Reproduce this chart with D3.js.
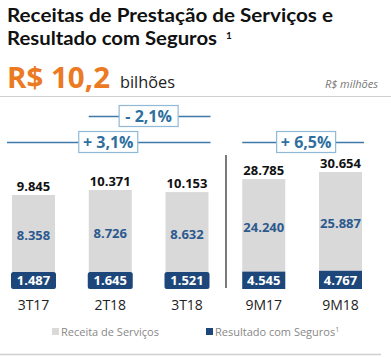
<!DOCTYPE html>
<html><head><meta charset="utf-8">
<script src="https://cdn.jsdelivr.net/npm/d3@7"></script>
<style>body{margin:0;background:#fff}svg{display:block}</style>
</head><body><svg id="c" width="391" height="357"></svg>
<script>
const categories = ["3T17","2T18","3T18","9M17","9M18"];
const receita    = [8358, 8726, 8632, 24240, 25887];
const seguros    = [1487, 1645, 1521, 4545, 4767];
const totals     = [9845, 10371, 10153, 28785, 30654];
const groupOf    = ["Q","Q","Q","M","M"];
const changeLabels = ["- 2,1%", "+ 3,1%", "+ 6,5%"];
const changeFrom   = ["2T18", "3T17", "9M17"];
const changeTo     = ["3T18", "3T18", "9M18"];
const legendLabels = ["Receita de Serviços", "Resultado com Seguros"];

const svg = d3.select("#c");
const FONT = "'Open Sans', sans-serif";
const TFONT = "Lato, 'Open Sans', sans-serif";
const cGray = "#d9d9d9", cDark = "#1d477a", cSeg = "#2c5a8e", cBlue = "#2f6fa0";
const fmt = v => d3.format(",")(v).replace(/,/g,".");

// header
svg.append("text").attr("x",7).attr("y",22).attr("font-family",TFONT).attr("font-weight",700)
  .attr("font-size",19).attr("fill","#111").attr("textLength",326).attr("lengthAdjust","spacingAndGlyphs")
  .text("Receitas de Prestação de Serviços e");
svg.append("text").attr("x",7).attr("y",45).attr("font-family",TFONT).attr("font-weight",700)
  .attr("font-size",19).attr("fill","#111").attr("textLength",210).attr("lengthAdjust","spacingAndGlyphs")
  .text("Resultado com Seguros");
svg.append("text").attr("x",226).attr("y",39).attr("font-family",TFONT).attr("font-weight",700)
  .attr("font-size",10).attr("fill","#111").text("1");
svg.append("text").attr("x",7).attr("y",88).attr("font-family",FONT).attr("font-weight",700)
  .attr("font-size",29).attr("fill","#ec7a23").attr("textLength",103).attr("lengthAdjust","spacingAndGlyphs")
  .text("R$ 10,2");
svg.append("text").attr("x",120).attr("y",88).attr("font-family",FONT)
  .attr("font-size",17).attr("fill","#222").attr("textLength",55).attr("lengthAdjust","spacingAndGlyphs").text("bilhões");
svg.append("text").attr("x",378).attr("y",88).attr("text-anchor","end").attr("font-family",FONT)
  .attr("font-style","italic").attr("font-size",11).attr("fill","#777").text("R$ milhões");
svg.append("line").attr("x1",0).attr("x2",391).attr("y1",96.5).attr("y2",96.5).attr("stroke","#d0d0d0").attr("stroke-width",1.2);
svg.append("line").attr("x1",0).attr("x2",381).attr("y1",354.5).attr("y2",354.5).attr("stroke","#d0d0d0").attr("stroke-width",1.5);

// scales
const x = d3.scalePoint().domain(categories).range([33.5, 340.5]);
const bw = 43;
const yQ = d3.scaleLinear().domain([0, d3.max(totals.slice(0,3))]).range([289, 190]);
const yM = d3.scaleLinear().domain([0, d3.max(totals.slice(3))]).range([289, 172]);
const yOf = i => groupOf[i] === "Q" ? yQ : yM;
const minBox = 17;

const data = categories.map((c,i)=>({c, i, r: receita[i], s: seguros[i], t: totals[i]}));
const g = svg.append("g");
data.forEach(d=>{
  const y = yOf(d.i);
  const cx = x(d.c);
  const top = y(d.t);
  const darkH = Math.max(minBox, y(0) - y(d.s));
  g.append("rect").attr("x",cx-bw/2).attr("y",top).attr("width",bw).attr("height",y(0)-top).attr("fill",cGray);
  const isQ = groupOf[d.i]==="Q";
  g.append("rect").attr("x",cx-bw/2-(isQ?1:0)).attr("y",y(0)-darkH).attr("width",bw+(isQ?2:0)).attr("height",darkH)
    .attr("rx",isQ?2.5:0).attr("fill",cDark);
  g.append("text").attr("x",cx).attr("y",top-4).attr("text-anchor","middle").attr("font-family",FONT)
    .attr("font-weight",700).attr("font-size",13).attr("fill","#111").text(fmt(d.t));
  const grayMid = (top + y(0)-darkH)/2;
  g.append("text").attr("x",cx).attr("y",grayMid+2).attr("dy","0.35em").attr("text-anchor","middle").attr("font-family",FONT)
    .attr("font-weight",700).attr("font-size",13).attr("fill",cSeg).text(fmt(d.r));
  g.append("text").attr("x",cx).attr("y",y(0)-darkH/2).attr("dy","0.36em").attr("text-anchor","middle").attr("font-family",FONT)
    .attr("font-weight",700).attr("font-size",13).attr("fill","#fff").text(fmt(d.s));
  g.append("text").attr("x",cx).attr("y",310).attr("text-anchor","middle").attr("font-family",FONT)
    .attr("font-size",14).attr("fill","#222").text(d.c);
});

// divider
svg.append("line").attr("x1",226).attr("x2",226).attr("y1",155).attr("y2",288).attr("stroke","#222").attr("stroke-width",1.2);

// change annotations
const levels = [116, 142, 142];
changeLabels.forEach((lab,k)=>{
  const a = x(changeFrom[k]), b = x(changeTo[k]);
  const ly = levels[k];
  const x1 = a - bw/2 - (k===1?5:0), x2 = b + bw/2 + 2;
  svg.append("line").attr("x1",x1).attr("x2",x2).attr("y1",ly+0.5).attr("y2",ly+0.5).attr("stroke","#3d7aa8").attr("stroke-width",1.3);
  const mid = (a+b)/2 + (k===1?-2:(k===2?4:0));
  const w = 59, h = 21;
  svg.append("rect").attr("x",mid-w/2).attr("y",ly-h/2).attr("width",w).attr("height",h)
    .attr("fill","#fff").attr("stroke","#8fb9d6").attr("stroke-width",1.2);
  svg.append("text").attr("x",mid).attr("y",ly).attr("dy","0.36em").attr("text-anchor","middle").attr("font-family",FONT)
    .attr("font-weight",700).attr("font-size",16).attr("fill",cBlue).text(lab);
});

// legend
const lg = svg.append("g").attr("font-family",FONT).attr("font-size",11).attr("fill","#888");
lg.append("rect").attr("x",52).attr("y",328).attr("width",7).attr("height",7).attr("fill",cGray);
lg.append("text").attr("x",61).attr("y",336).text(legendLabels[0]);
lg.append("rect").attr("x",206).attr("y",328).attr("width",7).attr("height",7).attr("fill",cDark);
const lt = lg.append("text").attr("x",215).attr("y",336);
lt.append("tspan").text(legendLabels[1]);
lt.append("tspan").attr("dy",-4).attr("font-size",7).text("1");
</script></body></html>
